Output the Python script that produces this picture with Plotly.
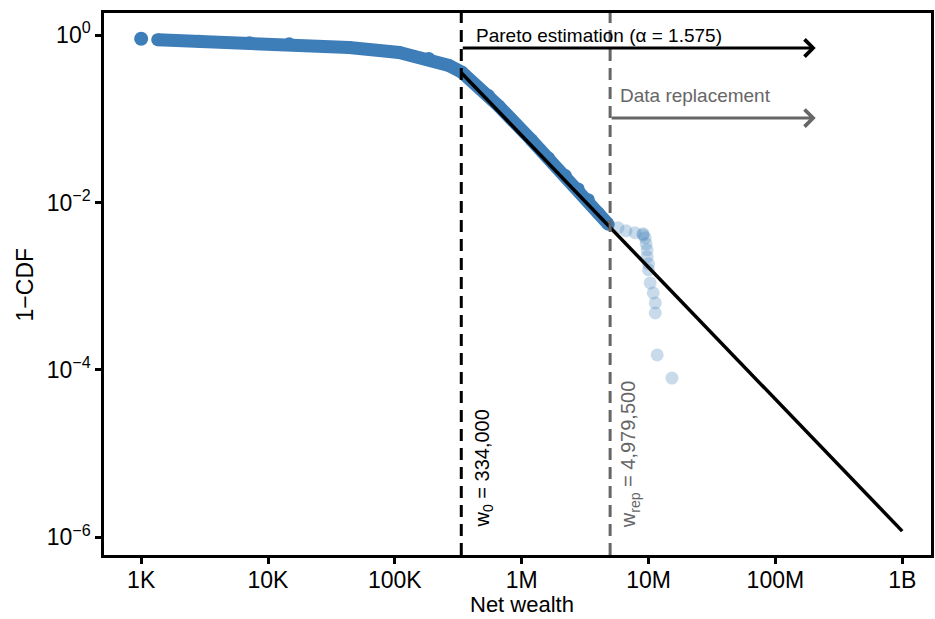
import math
import plotly.graph_objects as go

# ---------------- data ----------------
alpha = 1.575
w0 = 334000
w_rep = 4979500

# dense empirical 1-CDF (observations up to w_rep)
min_wealth = [1000]
min_ccdf = [0.904]
body_wealth = [1350, 2890, 7150, 14700, 43600, 108000, 185000, 266000, 337000,
               548000, 658000, 1190000, 1630000, 2210000, 2790000, 3350000,
               4010000, 4810000]
body_ccdf = [0.879, 0.843, 0.809, 0.787, 0.709, 0.620, 0.525, 0.433, 0.360,
             0.189, 0.142, 0.056, 0.034, 0.021, 0.0145, 0.0108,
             0.0075, 0.0055]

# sparse empirical points beyond w_rep
tail_wealth = [5750000, 6650000, 7830000, 9060000, 9060000, 9400000, 9570000,
               9750000, 9750000, 10000000, 10000000, 10310000, 10900000,
               11300000, 11300000, 11700000, 15300000]
tail_ccdf = [0.00499, 0.00459, 0.00435, 0.00422, 0.00410, 0.00378, 0.00321,
             0.00272, 0.00225, 0.00185, 0.00157, 0.001096, 0.000832,
             0.000632, 0.00048, 0.000151, 0.00008]

# fitted Pareto line (from w0 to 1B)
pareto_wealth = [w0, 1e9]
pareto_ccdf = [0.355, 1.19e-6]

x_tickvals = [1e3, 1e4, 1e5, 1e6, 1e7, 1e8, 1e9]
x_ticktext = ["1K", "10K", "100K", "1M", "10M", "100M", "1B"]
y_tickvals = [1, 1e-2, 1e-4, 1e-6]
y_ticktext = ["10<sup>0</sup>", "10<sup>\u22122</sup>", "10<sup>\u22124</sup>", "10<sup>\u22126</sup>"]

arrow_end = 2.08e8
arrow_pareto_y = 0.70
arrow_rep_y = 0.102

# ---------------- styling ----------------
FONT = "Liberation Sans, Arial, sans-serif"
BLUE = "rgb(61,125,184)"
BLUE_T = "rgba(61,125,184,0.28)"
GRAY = "#666666"

fig = go.Figure()

fig.add_trace(go.Scatter(
    x=body_wealth, y=body_ccdf, mode="lines+markers",
    line=dict(color=BLUE, width=13),
    marker=dict(color=BLUE, size=13, line=dict(width=0)),
    hoverinfo="skip", showlegend=False))

fig.add_trace(go.Scatter(
    x=min_wealth, y=min_ccdf, mode="markers",
    marker=dict(color=BLUE, size=14, line=dict(width=0)),
    hoverinfo="skip", showlegend=False))

fig.add_trace(go.Scatter(
    x=tail_wealth, y=tail_ccdf, mode="markers",
    marker=dict(color=BLUE_T, size=13, line=dict(width=0)),
    hoverinfo="skip", showlegend=False))

fig.add_trace(go.Scatter(
    x=pareto_wealth, y=pareto_ccdf, mode="lines",
    line=dict(color="black", width=3.5),
    hoverinfo="skip", showlegend=False))

# threshold lines
fig.add_shape(type="line", xref="x", yref="paper", x0=w0, x1=w0, y0=0, y1=1,
              line=dict(color="black", width=3, dash="12px,7px"))
fig.add_shape(type="line", xref="x", yref="paper", x0=w_rep, x1=w_rep, y0=0, y1=1,
              line=dict(color=GRAY, width=3, dash="12px,7px"))

lg = math.log10
annotations = [
    # arrows
    dict(x=lg(arrow_end), y=lg(arrow_pareto_y), ax=lg(w0), ay=lg(arrow_pareto_y),
         xref="x", yref="y", axref="x", ayref="y", text="", showarrow=True,
         arrowhead=4, arrowsize=1.1, arrowwidth=3, arrowcolor="black",
         standoff=0, startstandoff=0),
    dict(x=lg(arrow_end), y=lg(arrow_rep_y), ax=lg(w_rep), ay=lg(arrow_rep_y),
         xref="x", yref="y", axref="x", ayref="y", text="", showarrow=True,
         arrowhead=4, arrowsize=1.1, arrowwidth=3, arrowcolor=GRAY,
         standoff=0, startstandoff=0),
    # labels
    dict(x=lg(w0 * 1.25), y=lg(1.0), xref="x", yref="y", showarrow=False,
         text="Pareto estimation (\u03b1 = 1.575)", xanchor="left", yanchor="middle",
         font=dict(family=FONT, size=19, color="black")),
    dict(x=lg(w_rep * 1.16), y=lg(0.19), xref="x", yref="y", showarrow=False,
         text="Data replacement", xanchor="left", yanchor="middle",
         font=dict(family=FONT, size=19, color=GRAY)),
    dict(x=lg(w0 * 1.5), y=-5.91, xref="x", yref="y", showarrow=False,
         text="w<sub>0</sub> = 334,000", textangle=-90,
         xanchor="center", yanchor="bottom",
         font=dict(family=FONT, size=20, color="black")),
    dict(x=lg(w_rep * 1.43), y=-5.91, xref="x", yref="y", showarrow=False,
         text="w<sub>rep</sub> = 4,979,500", textangle=-90,
         xanchor="center", yanchor="bottom",
         font=dict(family=FONT, size=20, color=GRAY)),
    # axis titles
    dict(x=0.505, y=-0.091, xref="paper", yref="paper", showarrow=False,
         text="Net wealth", xanchor="center", yanchor="middle",
         font=dict(family=FONT, size=22, color="black")),
    dict(x=-0.095, y=0.5, xref="paper", yref="paper", showarrow=False,
         text="1\u2212CDF", textangle=-90, xanchor="center", yanchor="middle",
         font=dict(family=FONT, size=23, color="black")),
]

axis_common = dict(
    showgrid=False, zeroline=False, showline=True, linecolor="black", linewidth=2.5,
    mirror=True, ticks="outside", ticklen=6, tickwidth=2.5, tickcolor="black",
    tickfont=dict(family=FONT, size=23, color="black"),
)

fig.update_layout(
    width=935, height=619,
    margin=dict(l=104, r=1, t=13, b=64),
    paper_bgcolor="white", plot_bgcolor="white",
    font=dict(family=FONT, color="black"),
    annotations=annotations,
    xaxis=dict(type="log", range=[2.707, 9.227], tickvals=x_tickvals, ticktext=x_ticktext,
               ticklabelstandoff=-3, **axis_common),
    yaxis=dict(type="log", range=[-6.21, 0.263], tickvals=y_tickvals, ticktext=y_ticktext,
               **axis_common),
)

fig.write_html("out.html")
